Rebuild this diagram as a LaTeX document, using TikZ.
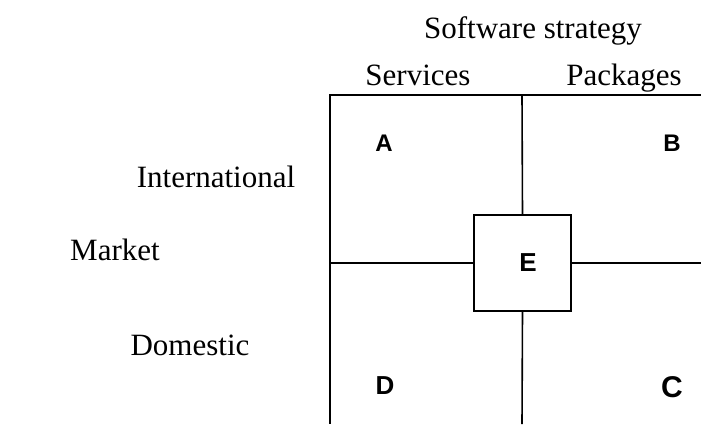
\documentclass[tikz,border=0pt]{standalone}
\usepackage{fontspec}
\setmainfont{Liberation Serif}
\newfontfamily\arialfont{Liberation Sans}
\usetikzlibrary{positioning}

\tikzset{
  axislabel/.style={font=\fontsize{31}{36}\selectfont, anchor=base, inner sep=0pt},
  cell/.style={font=\arialfont\bfseries\fontsize{#1}{#1}\selectfont, inner sep=0pt},
  grid line/.style={line width=1.6pt, black}
}

\begin{document}
\begin{tikzpicture}[x=1pt, y=-1pt]
\useasboundingbox (0,0) rectangle (701,424);

% frame corners and edge points
\coordinate (tl) at (330,95);
\coordinate (tr) at (701,95);
\coordinate (bl) at (330,424);
\coordinate (tm) at (522,95);
\coordinate (bm) at (522,424);
\coordinate (lm) at (330,263);
\coordinate (rm) at (701,263);

\node[draw, grid line, minimum width=97pt, minimum height=96pt, inner sep=0pt] (boxE) at (522.5,263) {};

\draw[grid line] (tr) -- (tl) -- (bl);
\draw[grid line] (tm) -- (boxE.north);
\draw[grid line] (boxE.south) -- (bm);
\draw[grid line] (lm) -- (boxE.west);
\draw[grid line] (boxE.east) -- (rm);

% headings
\node[axislabel] (strategy) at (533,38) {Software strategy};
\node[axislabel] (services) at (418,85) {Services};
\node[axislabel] (packages) at (624,85) {Packages};
\node[axislabel] (intl) at (216,187) {International};
\node[axislabel] (market) at (115,260) {Market};
\node[axislabel] (domestic) at (190,355) {Domestic};

% cell letters
\node[cell=24] (A) at (384,143) {A};
\node[cell=24] (B) at (672,143) {B};
\node[cell=26] (E) at (528,263) {E};
\node[cell=26] (D) at (385,386) {D};
\node[cell=30] (C) at (672,387) {C};
\end{tikzpicture}
\end{document}
